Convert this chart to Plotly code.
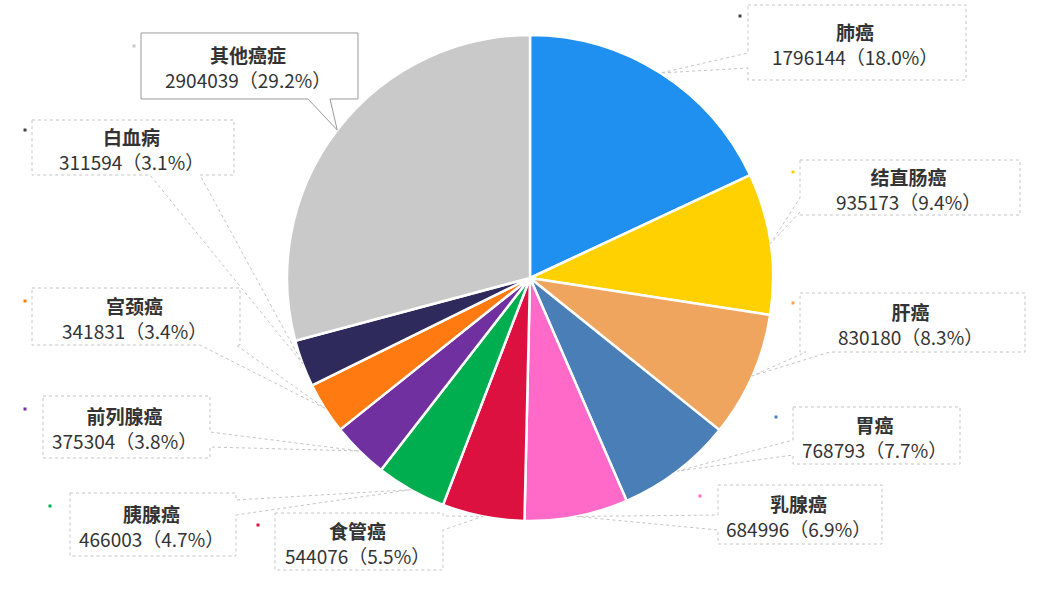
import numpy as np
import plotly.graph_objects as go

W, H = 1038, 598

# ---- data ----
labels = ["肺癌", "结直肠癌", "肝癌", "胃癌", "乳腺癌", "食管癌", "胰腺癌",
          "前列腺癌", "宫颈癌", "白血病", "其他癌症"]
values = [1796144, 935173, 830180, 768793, 684996, 544076, 466003,
          375304, 341831, 311594, 2904039]
pct_text = ["18.0%", "9.4%", "8.3%", "7.7%", "6.9%", "5.5%", "4.7%",
            "3.8%", "3.4%", "3.1%", "29.2%"]
colors = ["#1F8FF0", "#FFD100", "#F0A55E", "#4A7EB6", "#FF6AC8", "#DC1140",
          "#00AE50", "#7030A0", "#FF7A10", "#2E2A5C", "#C9C9C9"]

# ---- layout of label boxes (pixels): box x0,y0,x1,y1 ; pointer side and base span ; dot ----
boxes = {
    "肺癌":   dict(box=(748, 5, 966, 80),   side="l", span=(53, 68),  dot=(740, 16)),
    "结直肠癌": dict(box=(800, 160, 1020, 215), side="l", span=(198, 212), dot=(793, 172)),
    "肝癌":   dict(box=(800, 293, 1025, 352), side="b", span=(806, 830), dot=(793, 303)),
    "胃癌":   dict(box=(793, 407, 960, 464), side="l", span=(440, 455), dot=(776, 417)),
    "乳腺癌":  dict(box=(718, 485, 882, 544), side="l", span=(515, 530), dot=(700, 496)),
    "食管癌":  dict(box=(275, 513, 443, 570), side="r", span=(516, 530), dot=(258, 525)),
    "胰腺癌":  dict(box=(70, 493, 236, 556),  side="r", span=(500, 515), dot=(50, 506)),
    "前列腺癌": dict(box=(43, 396, 210, 458),  side="r", span=(432, 447), dot=(25, 409)),
    "宫颈癌":  dict(box=(32, 288, 240, 345),  side="b", span=(200, 236), dot=(25, 301)),
    "白血病":  dict(box=(32, 120, 234, 175),  side="b", span=(150, 200), dot=(25, 130)),
    "其他癌症": dict(box=(141, 33, 358, 99),   side="b", span=(308, 330), dot=(134, 46)),
}

# pie geometry (pixels)
CX, CY, R = 530, 278, 243


def px(x):
    return x / W


def py(y):
    return 1 - y / H


def callout_path(box, side, span, tip):
    x0, y0, x1, y1 = box
    a, b = span
    tx, ty = tip
    pts = [(x0, y0), (x1, y0)]
    if side == "r":
        pts += [(x1, a), (tx, ty), (x1, b)]
    pts += [(x1, y1)]
    if side == "b":
        pts += [(b, y1), (tx, ty), (a, y1)]
    pts += [(x0, y1)]
    if side == "l":
        pts += [(x0, b), (tx, ty), (x0, a)]
    return "M " + " L ".join(f"{px(x):.5f},{py(y):.5f}" for x, y in pts) + " Z"


fig = go.Figure()
fig.add_trace(go.Pie(
    labels=labels, values=values, sort=False, direction="clockwise", rotation=0,
    marker=dict(colors=colors, line=dict(color="white", width=2.5)),
    textinfo="none", hoverinfo="label+value+percent", showlegend=False,
    domain=dict(x=[px(CX - R), px(CX + R)], y=[py(CY + R), py(CY - R)]),
))

shapes = []
annotations = []
total = float(np.sum(values))
cum = np.cumsum([0] + values[:-1]) / total
fr = np.array(values) / total
for i, name in enumerate(labels):
    b = boxes[name]
    x0, y0, x1, y1 = b["box"]
    other = name == "其他癌症"
    mid = (cum[i] + fr[i] / 2) * 2 * np.pi
    tip = (CX + R * np.sin(mid), CY - R * np.cos(mid))
    lc = "#9a9a9a" if other else "#c4c4c4"
    dash = "solid" if other else "dot"
    shapes.append(dict(type="path", xref="paper", yref="paper",
                       path=callout_path(b["box"], b["side"], b["span"], tip),
                       line=dict(color=lc, width=1, dash=dash),
                       fillcolor="rgba(255,255,255,0.0)", layer="above"))
    dx, dy = b["dot"]
    shapes.append(dict(type="rect", xref="paper", yref="paper",
                       x0=px(dx - 1.5), x1=px(dx + 1.5), y0=py(dy + 1.5), y1=py(dy - 1.5),
                       line=dict(width=0), fillcolor="#444" if i in (0, 9) else colors[i], layer="above"))
    annotations.append(dict(xref="paper", yref="paper", x=px((x0 + x1) / 2 - 2),
                            y=py((y0 + y1) / 2 + 1),
                            text=f"<b>{name}</b><br>{values[i]}（{pct_text[i]}）",
                            showarrow=False, align="center",
                            font=dict(size=19, color="#333333", family="Noto Sans CJK SC"),
                            xanchor="center", yanchor="middle", borderpad=0))

fig.update_layout(
    width=W, height=H, margin=dict(l=0, r=0, t=0, b=0),
    paper_bgcolor="white", plot_bgcolor="white",
    shapes=shapes, annotations=annotations,
)
fig.write_html("out.html", config={"displayModeBar": False},
               post_script="document.body.style.margin='0px';")
